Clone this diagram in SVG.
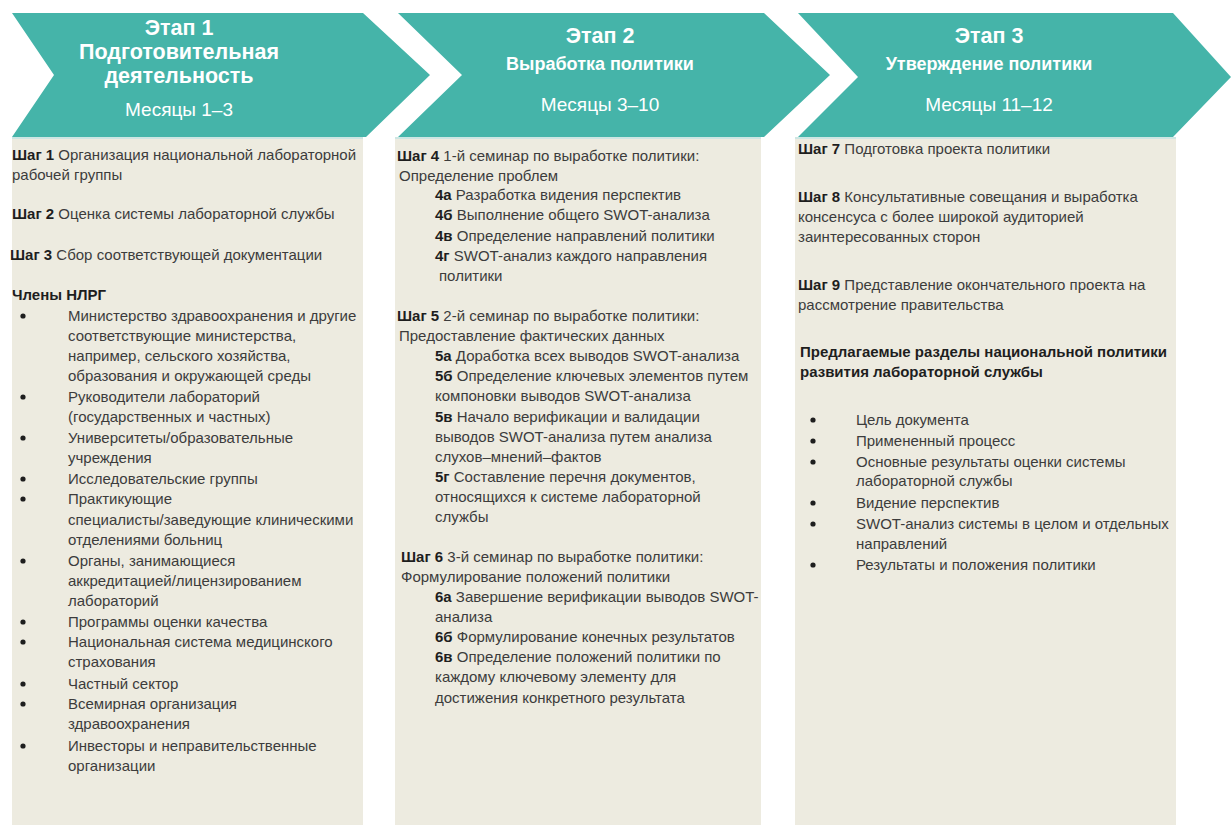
<svg xmlns="http://www.w3.org/2000/svg" width="1231" height="825" viewBox="0 0 1231 825">
<style>
.chev{fill:#45B4A9}
.panel{fill:#EDEBE0}
.topline{stroke:#CDE6E3;stroke-width:2}
.h{font-family:"Liberation Sans",Arial,sans-serif;fill:#FFFFFF;text-anchor:middle}
.hb{font-weight:bold;font-size:21.5px}
.hs{font-weight:bold;font-size:18px}
.hm{font-size:19px}
.t{font-family:"Liberation Sans",Arial,sans-serif;font-size:15px;fill:#3C3C3C}
.k{font-weight:bold;fill:#1E1E1E}
.dot{fill:#1E1E1E}
</style>
<rect width="1231" height="825" fill="#FFFFFF"/>

<g id="stage1">
<rect class="panel" x="12" y="138" width="351" height="687"/>
<line class="topline" x1="12" y1="138" x2="363" y2="138"/>
<polygon class="chev" points="12,13 363,13 430,75 366,137 12,137 54,75"/>
<text class="h hb" x="179" y="35">Этап 1</text>
<text class="h hb" x="179" y="59">Подготовительная</text>
<text class="h hb" x="179" y="83">деятельность</text>
<text class="h hm" x="179" y="116">Месяцы 1–3</text>
<g class="t">
<text x="12" y="160"><tspan class="k">Шаг 1</tspan> Организация национальной лабораторной</text>
<text x="12" y="180">рабочей группы</text>
<text x="12" y="219"><tspan class="k">Шаг 2</tspan> Оценка системы лабораторной службы</text>
<text x="10" y="260"><tspan class="k">Шаг 3</tspan> Сбор соответствующей документации</text>
<text x="12" y="300" class="k">Члены НЛРГ</text>
<text x="68" y="321">Министерство здравоохранения и другие</text>
<text x="68" y="341">соответствующие министерства,</text>
<text x="68" y="361">например, сельского хозяйства,</text>
<text x="68" y="381">образования и окружающей среды</text>
<text x="68" y="402">Руководители лабораторий</text>
<text x="68" y="422">(государственных и частных)</text>
<text x="68" y="443">Университеты/образовательные</text>
<text x="68" y="463">учреждения</text>
<text x="68" y="484">Исследовательские группы</text>
<text x="68" y="504">Практикующие</text>
<text x="68" y="525">специалисты/заведующие клиническими</text>
<text x="68" y="545">отделениями больниц</text>
<text x="68" y="566">Органы, занимающиеся</text>
<text x="68" y="586">аккредитацией/лицензированием</text>
<text x="68" y="606">лабораторий</text>
<text x="68" y="627">Программы оценки качества</text>
<text x="68" y="647">Национальная система медицинского</text>
<text x="68" y="667">страхования</text>
<text x="68" y="689">Частный сектор</text>
<text x="68" y="709">Всемирная организация</text>
<text x="68" y="729">здравоохранения</text>
<text x="68" y="751">Инвесторы и неправительственные</text>
<text x="68" y="771">организации</text>
</g>
<g class="dot">
<circle cx="23" cy="316" r="2.6"/>
<circle cx="23" cy="397" r="2.6"/>
<circle cx="23" cy="438" r="2.6"/>
<circle cx="23" cy="479" r="2.6"/>
<circle cx="23" cy="499" r="2.6"/>
<circle cx="23" cy="561" r="2.6"/>
<circle cx="23" cy="622" r="2.6"/>
<circle cx="23" cy="642" r="2.6"/>
<circle cx="23" cy="684" r="2.6"/>
<circle cx="23" cy="704" r="2.6"/>
<circle cx="23" cy="746" r="2.6"/>
</g>
</g>

<g id="stage2">
<rect class="panel" x="395" y="138" width="366" height="687"/>
<line class="topline" x1="395" y1="138" x2="761" y2="138"/>
<polygon class="chev" points="398,13 764,13 830,75 764,137 398,137 462,75"/>
<text class="h hb" x="600" y="43">Этап 2</text>
<text class="h hs" x="600" y="70">Выработка политики</text>
<text class="h hm" x="600" y="111">Месяцы 3–10</text>
<g class="t">
<text x="397" y="161"><tspan class="k">Шаг 4</tspan> 1-й семинар по выработке политики:</text>
<text x="399" y="181">Определение проблем</text>
<text x="435" y="200"><tspan class="k">4а</tspan> Разработка видения перспектив</text>
<text x="435" y="220"><tspan class="k">4б</tspan> Выполнение общего SWOT-анализа</text>
<text x="435" y="241"><tspan class="k">4в</tspan> Определение направлений политики</text>
<text x="435" y="261"><tspan class="k">4г</tspan> SWOT-анализ каждого направления</text>
<text x="439" y="281">политики</text>
<text x="397" y="321"><tspan class="k">Шаг 5</tspan> 2-й семинар по выработке политики:</text>
<text x="399" y="341">Предоставление фактических данных</text>
<text x="435" y="361"><tspan class="k">5а</tspan> Доработка всех выводов SWOT-анализа</text>
<text x="435" y="381"><tspan class="k">5б</tspan> Определение ключевых элементов путем</text>
<text x="435" y="401">компоновки выводов SWOT-анализа</text>
<text x="435" y="422"><tspan class="k">5в</tspan> Начало верификации и валидации</text>
<text x="435" y="442">выводов SWOT-анализа путем анализа</text>
<text x="435" y="462">слухов–мнений–фактов</text>
<text x="435" y="482"><tspan class="k">5г</tspan> Составление перечня документов,</text>
<text x="435" y="502">относящихся к системе лабораторной</text>
<text x="435" y="522">службы</text>
<text x="401" y="562"><tspan class="k">Шаг 6</tspan> 3-й семинар по выработке политики:</text>
<text x="401" y="582">Формулирование положений политики</text>
<text x="435" y="602"><tspan class="k">6а</tspan> Завершение верификации выводов SWOT-</text>
<text x="435" y="622">анализа</text>
<text x="435" y="642"><tspan class="k">6б</tspan> Формулирование конечных результатов</text>
<text x="435" y="662"><tspan class="k">6в</tspan> Определение положений политики по</text>
<text x="435" y="682">каждому ключевому элементу для</text>
<text x="435" y="703">достижения конкретного результата</text>
</g>
</g>

<g id="stage3">
<rect class="panel" x="795" y="138" width="381" height="687"/>
<line class="topline" x1="795" y1="138" x2="1176" y2="138"/>
<polygon class="chev" points="798,13 1173,13 1231,77 1173,137 798,137 858,77"/>
<text class="h hb" x="989" y="43">Этап 3</text>
<text class="h hs" x="989" y="70">Утверждение политики</text>
<text class="h hm" x="989" y="111">Месяцы 11–12</text>
<g class="t">
<text x="798" y="154"><tspan class="k">Шаг 7</tspan> Подготовка проекта политики</text>
<text x="798" y="202"><tspan class="k">Шаг 8</tspan> Консультативные совещания и выработка</text>
<text x="798" y="222">консенсуса с более широкой аудиторией</text>
<text x="798" y="242">заинтересованных сторон</text>
<text x="798" y="290"><tspan class="k">Шаг 9</tspan> Представление окончательного проекта на</text>
<text x="798" y="310">рассмотрение правительства</text>
<text x="800" y="357" class="k">Предлагаемые разделы национальной политики</text>
<text x="800" y="377" class="k">развития лабораторной службы</text>
<text x="856" y="425">Цель документа</text>
<text x="856" y="446">Примененный процесс</text>
<text x="856" y="467">Основные результаты оценки системы</text>
<text x="856" y="486">лабораторной службы</text>
<text x="856" y="508">Видение перспектив</text>
<text x="856" y="529">SWOT-анализ системы в целом и отдельных</text>
<text x="856" y="549">направлений</text>
<text x="856" y="570">Результаты и положения политики</text>
</g>
<g class="dot">
<circle cx="813" cy="420" r="2.6"/>
<circle cx="813" cy="441" r="2.6"/>
<circle cx="813" cy="462" r="2.6"/>
<circle cx="813" cy="503" r="2.6"/>
<circle cx="813" cy="524" r="2.6"/>
<circle cx="813" cy="565" r="2.6"/>
</g>
</g>
</svg>
